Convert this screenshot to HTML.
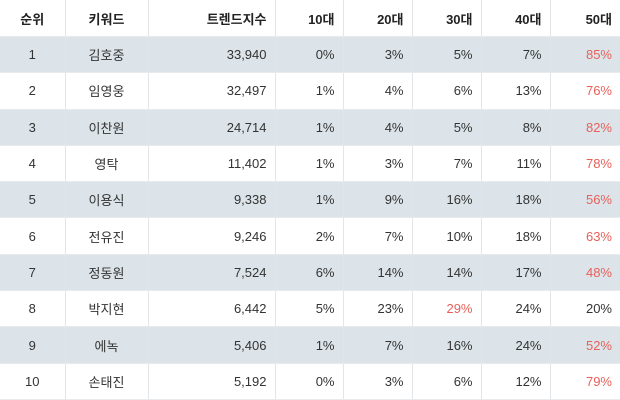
<!DOCTYPE html>
<html><head><meta charset="utf-8"><style>
html,body{margin:0;padding:0;background:#fff;overflow:hidden;}
table{border-collapse:collapse;width:620px;table-layout:fixed;font-family:"Liberation Sans","Noto Sans CJK KR",sans-serif;font-size:13px;color:#333;}
td,th{height:35.3px;padding:0 8px;border-left:1px solid #e3e6e8;border-bottom:1px solid #e8ebed;white-space:nowrap;}
td:first-child,th:first-child{border-left:none;}
th{font-weight:bold;height:36px;color:#222;}
tr.s td{background:#dce4e9;}
.c{text-align:center}.r{text-align:right}
.red{color:#e8605a}
</style></head><body>
<table>
<colgroup><col style="width:65px"><col style="width:83px"><col style="width:127px"><col style="width:68px"><col style="width:69px"><col style="width:69px"><col style="width:69px"><col style="width:70px"></colgroup>
<tr><th class="c">순위</th><th class="c">키워드</th><th class="r">트렌드지수</th><th class="r">10대</th><th class="r">20대</th><th class="r">30대</th><th class="r">40대</th><th class="r">50대</th></tr>
<tr class="s"><td class="c">1</td><td class="c">김호중</td><td class="r">33,940</td><td class="r">0%</td><td class="r">3%</td><td class="r">5%</td><td class="r">7%</td><td class="r red">85%</td></tr>
<tr><td class="c">2</td><td class="c">임영웅</td><td class="r">32,497</td><td class="r">1%</td><td class="r">4%</td><td class="r">6%</td><td class="r">13%</td><td class="r red">76%</td></tr>
<tr class="s"><td class="c">3</td><td class="c">이찬원</td><td class="r">24,714</td><td class="r">1%</td><td class="r">4%</td><td class="r">5%</td><td class="r">8%</td><td class="r red">82%</td></tr>
<tr><td class="c">4</td><td class="c">영탁</td><td class="r">11,402</td><td class="r">1%</td><td class="r">3%</td><td class="r">7%</td><td class="r">11%</td><td class="r red">78%</td></tr>
<tr class="s"><td class="c">5</td><td class="c">이용식</td><td class="r">9,338</td><td class="r">1%</td><td class="r">9%</td><td class="r">16%</td><td class="r">18%</td><td class="r red">56%</td></tr>
<tr><td class="c">6</td><td class="c">전유진</td><td class="r">9,246</td><td class="r">2%</td><td class="r">7%</td><td class="r">10%</td><td class="r">18%</td><td class="r red">63%</td></tr>
<tr class="s"><td class="c">7</td><td class="c">정동원</td><td class="r">7,524</td><td class="r">6%</td><td class="r">14%</td><td class="r">14%</td><td class="r">17%</td><td class="r red">48%</td></tr>
<tr><td class="c">8</td><td class="c">박지현</td><td class="r">6,442</td><td class="r">5%</td><td class="r">23%</td><td class="r red">29%</td><td class="r">24%</td><td class="r">20%</td></tr>
<tr class="s"><td class="c">9</td><td class="c">에녹</td><td class="r">5,406</td><td class="r">1%</td><td class="r">7%</td><td class="r">16%</td><td class="r">24%</td><td class="r red">52%</td></tr>
<tr><td class="c">10</td><td class="c">손태진</td><td class="r">5,192</td><td class="r">0%</td><td class="r">3%</td><td class="r">6%</td><td class="r">12%</td><td class="r red">79%</td></tr>
</table>
</body></html>
